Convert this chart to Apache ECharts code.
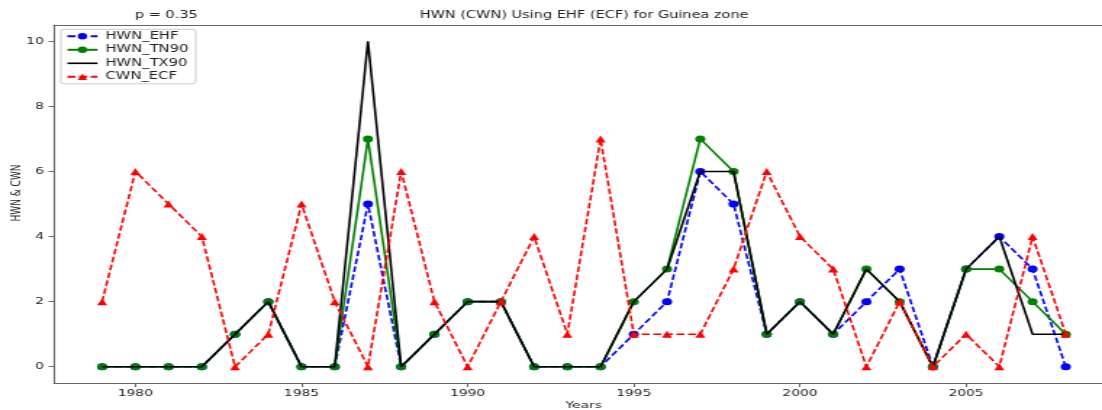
<!DOCTYPE html>
<html>
<head>
<meta charset="utf-8">
<script src="https://cdn.jsdelivr.net/npm/echarts@6/dist/echarts.min.js"></script>
<style>
html,body{margin:0;padding:0;overflow:hidden;background:#fff;width:1102px;height:410px}
#wrap{width:1102px;height:410px;overflow:hidden}
#c{width:760px;height:410px;transform:scaleX(1.45);transform-origin:0 0}
</style>
</head>
<body>
<div id="wrap"><div id="c"></div></div>
<script>
const years = [1979,1980,1981,1982,1983,1984,1985,1986,1987,1988,1989,1990,1991,1992,1993,1994,1995,1996,1997,1998,1999,2000,2001,2002,2003,2004,2005,2006,2007,2008];
const hwnEHF  = [0,0,0,0,1,2,0,0,5,0,1,2,2,0,0,0,1,2,6,5,1,2,1,2,3,0,3,4,3,0];
const hwnTN90 = [0,0,0,0,1,2,0,0,7,0,1,2,2,0,0,0,2,3,7,6,1,2,1,3,2,0,3,3,2,1];
const hwnTX90 = [0,0,0,0,1,2,0,0,10,0,1,2,2,0,0,0,2,3,6,6,1,2,1,3,2,0,3,4,1,1];
const cwnECF  = [2,6,5,4,0,1,5,2,0,6,2,0,2,4,1,7,1,1,1,3,6,4,3,0,2,0,1,0,4,1];
const xTicks = [1980,1985,1990,1995,2000,2005];
const yTicks = [0,2,4,6,8,10];

const pair = arr => years.map((y,i)=>[y,arr[i]]);
const FONT = 'DejaVu Sans';
const TXT = '#222';
const AX = '#666';

const chart = echarts.init(document.getElementById('c'), null, {renderer:'canvas'});
chart.setOption({
  animation:false,
  backgroundColor:'#fff',
  title:[
    {text:'HWN (CWN) Using EHF (ECF) for Guinea zone', left:402.8, textAlign:'center', top:10, padding:0,
     textStyle:{fontSize:10, fontWeight:'normal', color:TXT, fontFamily:FONT}},
    {text:'p = 0.35', left:93, top:10, padding:0,
     textStyle:{fontSize:10, fontWeight:'normal', color:TXT, fontFamily:FONT}}
  ],
  legend:{
    orient:'vertical', left:42, top:29.3,
    padding:[2,5,2,3.5],
    itemWidth:20.7, itemHeight:8, itemGap:3.5,
    borderColor:'#ccc', borderWidth:1, borderRadius:2,
    backgroundColor:'rgba(255,255,255,0.8)',
    textStyle:{fontSize:10.2, lineHeight:10, color:TXT, fontFamily:FONT, padding:[0,0,0,0.5]},
    data:['HWN_EHF','HWN_TN90',{name:'HWN_TX90', icon:'path://M0 0H100V8H0Z'},'CWN_ECF']
  },
  grid:{left:37.2, right:0, top:25, bottom:27, containLabel:false, outerBoundsMode:'none'},
  xAxis:[
    {type:'value', min:1977.55, max:2009.09, position:'bottom',
     name:'Years', nameLocation:'middle', nameGap:18, nameMoveOverlap:false,
     nameTextStyle:{fontSize:9.5, color:TXT, fontFamily:FONT, padding:[0,0,0,8]},
     axisLine:{show:true, onZero:false, lineStyle:{color:AX, width:1.1}},
     axisTick:{show:true, length:4, customValues:xTicks, lineStyle:{color:AX, width:1}},
     axisLabel:{customValues:xTicks, formatter:v=>String(v), fontSize:9.5, color:TXT, fontFamily:FONT, margin:6},
     splitLine:{show:false}},
    {type:'value', min:1977.55, max:2009.09, position:'top',
     axisLine:{show:true, onZero:false, lineStyle:{color:AX, width:1.1}},
     axisTick:{show:false}, axisLabel:{show:false}, splitLine:{show:false}}
  ],
  yAxis:{
    type:'value', min:-0.5, max:10.5,
    name:'HWN & CWN', nameLocation:'middle', nameGap:21, nameRotate:90, nameMoveOverlap:false,
    nameTextStyle:{fontSize:9, color:TXT, fontFamily:FONT, padding:[0,0,0,22]},
    axisLine:{show:true, onZero:false, lineStyle:{color:AX, width:1.1}},
    axisTick:{show:true, length:3.7, customValues:yTicks, lineStyle:{color:AX, width:1}},
    axisLabel:{customValues:yTicks, formatter:v=>String(v), fontSize:9.5, color:TXT, fontFamily:FONT, margin:7, padding:[3,0,0,0]},
    splitLine:{show:false}
  },
  series:[
    {name:'HWN_EHF', type:'line', data:pair(hwnEHF), z:2,
     symbol:'circle', symbolSize:7, color:'#0000ff',
     itemStyle:{color:'#0000ff'},
     lineStyle:{color:'#0000ff', width:1.6, type:[5.5,2.5]}},
    {name:'HWN_TN90', type:'line', data:pair(hwnTN90), z:3,
     symbol:'circle', symbolSize:7, color:'#008000',
     itemStyle:{color:'#008000'},
     lineStyle:{color:'#008000', width:1.6}},
    {name:'HWN_TX90', type:'line', data:pair(hwnTX90), z:4,
     symbol:'none', color:'#000000',
     itemStyle:{color:'#000000'},
     lineStyle:{color:'#000000', width:1.6}},
    {name:'CWN_ECF', type:'line', data:pair(cwnECF), z:5,
     symbol:'triangle', symbolSize:7, color:'#ff0000',
     itemStyle:{color:'#ff0000'},
     lineStyle:{color:'#ff0000', width:1.6, type:[5.5,2.5]}}
  ]
});
</script>
</body>
</html>
